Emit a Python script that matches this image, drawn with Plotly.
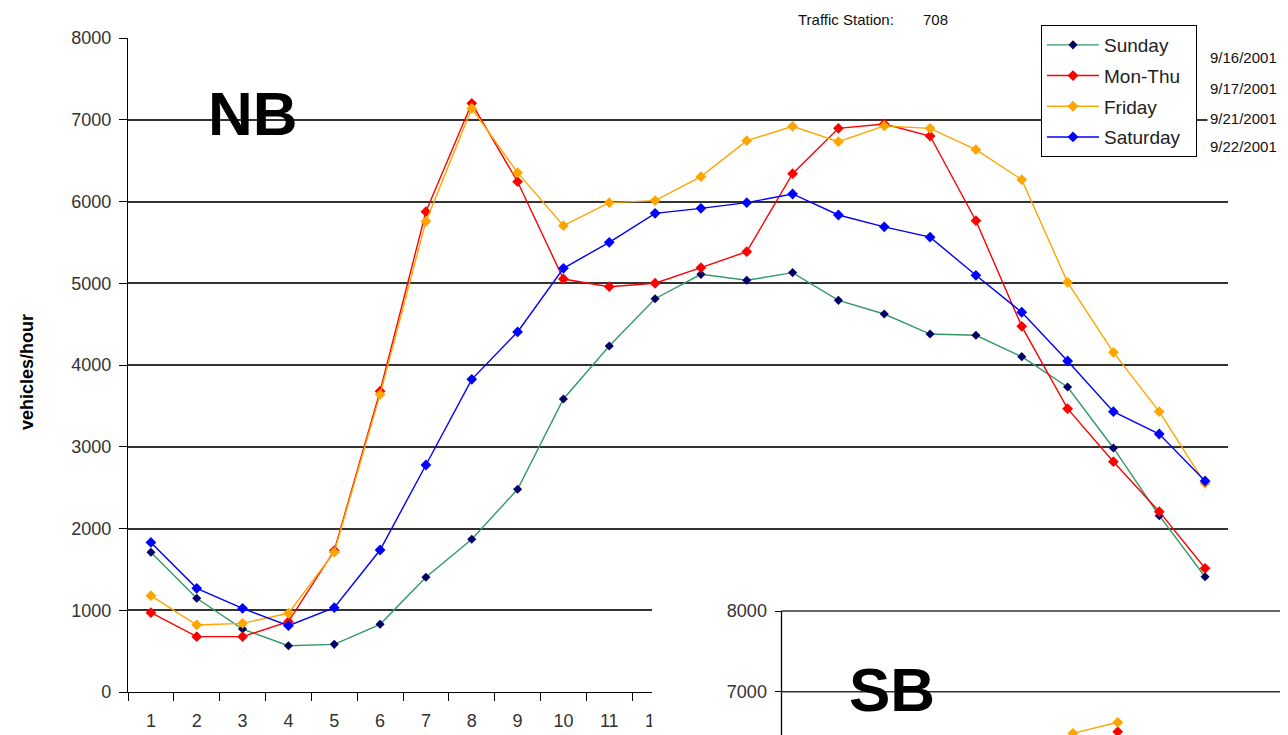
import plotly.graph_objects as go

# The page body has an 8px margin, so the figure is drawn 8px in from the window corner.
OFF = 8
W, H = 1288 - OFF, 735 - OFF

# ---------------- data (NB, station 708) ----------------
hours = [str(h) for h in range(1, 25)]
sunday = [1710, 1146, 770, 566, 583, 828, 1403, 1868, 2480, 3584, 4232, 4811,
          5109, 5036, 5130, 4791, 4624, 4379, 4363, 4102, 3731, 2985, 2157, 1410]
mon_thu = [970, 677, 677, 860, 1730, 3680, 5875, 7201, 6242, 5052, 4958, 5000,
           5191, 5386, 6340, 6895, 6948, 6801, 5765, 4473, 3466, 2817, 2206, 1513]
friday = [1178, 820, 840, 963, 1710, 3640, 5757, 7138, 6353, 5704, 5986, 6011,
          6304, 6744, 6920, 6732, 6924, 6895, 6634, 6267, 5011, 4155, 3429, 2553]
saturday = [1830, 1268, 1023, 811, 1032, 1737, 2777, 3825, 4404, 5183, 5501, 5855,
            5916, 5986, 6092, 5835, 5690, 5564, 5097, 4645, 4049, 3429, 3156, 2581]
# hour labels 13-24 are hidden behind the SB chart in the reference
hour_labels = hours[:12] + [""] * 12

# SB inset (only the visible points)
sb_fri_hours = [7, 8]
sb_fri = [6484, 6621]
sb_mon_hours = [8]
sb_mon = [6504]

series_names = ["Sunday", "Mon-Thu", "Friday", "Saturday"]
dates = ["9/16/2001", "9/17/2001", "9/21/2001", "9/22/2001"]
nb_ticks = [0, 1000, 2000, 3000, 4000, 5000, 6000, 7000, 8000]
sb_ticks = [7000, 8000]

FONT = "Liberation Sans, Arial, sans-serif"


def px(x):
    return (x - OFF) / W


def py(y):
    return 1 - (y - OFF) / H


fig = go.Figure()

styles = [
    dict(line=dict(color="#339966", width=1.4), marker=dict(color="#000066", size=7, symbol="diamond")),
    dict(line=dict(color="#ff0000", width=1.4), marker=dict(color="#ff0000", size=8.3, symbol="diamond")),
    dict(line=dict(color="#ffa500", width=1.4), marker=dict(color="#ffa500", size=8.3, symbol="diamond")),
    dict(line=dict(color="#0000ff", width=1.4), marker=dict(color="#0000ff", size=8.3, symbol="diamond")),
]
legend_names = ["Sunday", "Mon-Thu", "Friday", "Saturday\u00a0\u00a0"]
for name, lname, vals, st in zip(series_names, legend_names, [sunday, mon_thu, friday, saturday], styles):
    fig.add_trace(go.Scatter(x=hours, y=vals, name=lname, mode="lines+markers",
                             line=st["line"], marker=st["marker"],
                             legendgroup=name, xaxis="x", yaxis="y"))

# SB inset traces
fig.add_trace(go.Scatter(x=sb_mon_hours, y=sb_mon, mode="lines+markers", showlegend=False,
                         line=styles[1]["line"], marker=styles[1]["marker"], xaxis="x2", yaxis="y2"))
fig.add_trace(go.Scatter(x=sb_fri_hours, y=sb_fri, mode="lines+markers", showlegend=False,
                         line=styles[2]["line"], marker=styles[2]["marker"], xaxis="x2", yaxis="y2"))

# SB geometry (x2: hour units, y2: vehicles/hour)
sb_axis_px = 781.5
sb_step = 44.83
x2_lo = 0.5 + (652 - sb_axis_px) / sb_step
x2_hi = 0.5 + (1288 - sb_axis_px) / sb_step
sb_per_px = 1000 / 80.7
y2_lo = 7000 - (735 - 691.7) * sb_per_px
y2_hi = 8000 + (611 - 593) * sb_per_px

shapes = [
    # white box of the inset chart, drawn inside the inset subplot (covers NB underneath)
    dict(type="rect", xref="x2", yref="y2", x0=x2_lo - 5, x1=x2_hi + 5, y0=y2_lo - 2000, y1=y2_hi + 2000,
         fillcolor="white", line=dict(width=0), layer="below"),
]
for t in sb_ticks:
    shapes.append(dict(type="line", xref="x2", yref="y2", x0=0.5, x1=x2_hi + 5, y0=t, y1=t,
                       line=dict(color="#333333", width=1.6), layer="below"))
shapes.append(dict(type="line", xref="x2", yref="y2", x0=0.5, x1=0.5, y0=y2_lo - 500, y1=8000,
                   line=dict(color="black", width=1.3), layer="below"))

annotations = [
    dict(text="<b>NB</b>", x=px(252.5), y=py(114), xref="paper", yref="paper", showarrow=False,
         font=dict(family=FONT, size=62, color="black"), xanchor="center", yanchor="middle"),
    dict(text="<b>SB</b>", x=px(891.5), y=py(689), xref="paper", yref="paper", showarrow=False,
         font=dict(family=FONT, size=62, color="black"), xanchor="center", yanchor="middle"),
    dict(text="<b>vehicles/hour</b>", x=px(27), y=py(372), xref="paper", yref="paper", showarrow=False,
         textangle=-90, font=dict(family=FONT, size=18, color="black"), xanchor="center", yanchor="middle"),
    dict(text="Traffic Station:", x=px(796), y=py(20), xref="paper", yref="paper", showarrow=False,
         font=dict(family=FONT, size=15, color="#111111"), xanchor="left", yanchor="middle"),
    dict(text="708", x=px(921), y=py(20), xref="paper", yref="paper", showarrow=False,
         font=dict(family=FONT, size=15, color="#111111"), xanchor="left", yanchor="middle"),
]
for d, yy in zip(dates, [58, 88, 118, 147]):
    annotations.append(dict(text=d, x=px(1207), y=py(yy), xref="paper", yref="paper", showarrow=False,
                            font=dict(family=FONT, size=15, color="#111111"), xanchor="left", yanchor="middle",
                            bgcolor="white", borderpad=2))

fig.update_layout(
    width=W, height=H,
    template="none",
    margin=dict(l=0, r=0, t=0, b=0, pad=0),
    paper_bgcolor="white", plot_bgcolor="white",
    font=dict(family=FONT, size=18, color="#333333"),
    showlegend=True,
    legend=dict(x=px(1041), y=py(25), xanchor="left", yanchor="top",
                bgcolor="white", bordercolor="black", borderwidth=1,
                font=dict(family=FONT, size=19, color="#222222"),
                traceorder="grouped", tracegroupgap=3, itemwidth=52),
    xaxis=dict(domain=[px(128), px(1228)], type="category", range=[-0.5, 23.5],
               tickvals=hours, ticktext=hour_labels,
               showgrid=False, zeroline=False, showline=True, linecolor="black", linewidth=1.3,
               ticks="outside", tickson="boundaries", ticklen=8, tickcolor="black", tickwidth=1.3,
               tickfont=dict(family=FONT, size=18, color="#333333"), ticklabelstandoff=12,
               anchor="y", automargin=False, fixedrange=True),
    yaxis=dict(domain=[py(692), py(38)], range=[0, 8000], tickvals=nb_ticks,
               showgrid=True, gridcolor="#333333", gridwidth=1.6, zeroline=False,
               showline=True, linecolor="black", linewidth=1.3,
               ticks="outside", ticklen=8, tickcolor="black", tickwidth=1.3,
               tickfont=dict(family=FONT, size=18, color="#333333"), ticklabelstandoff=4,
               anchor="x", automargin=False, fixedrange=True),
    xaxis2=dict(domain=[px(652), 1.0], range=[x2_lo, x2_hi], visible=False, anchor="y2",
                automargin=False, fixedrange=True),
    yaxis2=dict(domain=[0, py(593)], range=[y2_lo, y2_hi], tickvals=sb_ticks,
                anchor="free", position=px(sb_axis_px),
                showgrid=False, zeroline=False, showline=False,
                ticks="outside", ticklen=7, tickcolor="black", tickwidth=1.3,
                tickfont=dict(family=FONT, size=18, color="#333333"), ticklabelstandoff=4,
                automargin=False, fixedrange=True),
    shapes=shapes,
    annotations=annotations,
)

fig.write_html("out.html")
